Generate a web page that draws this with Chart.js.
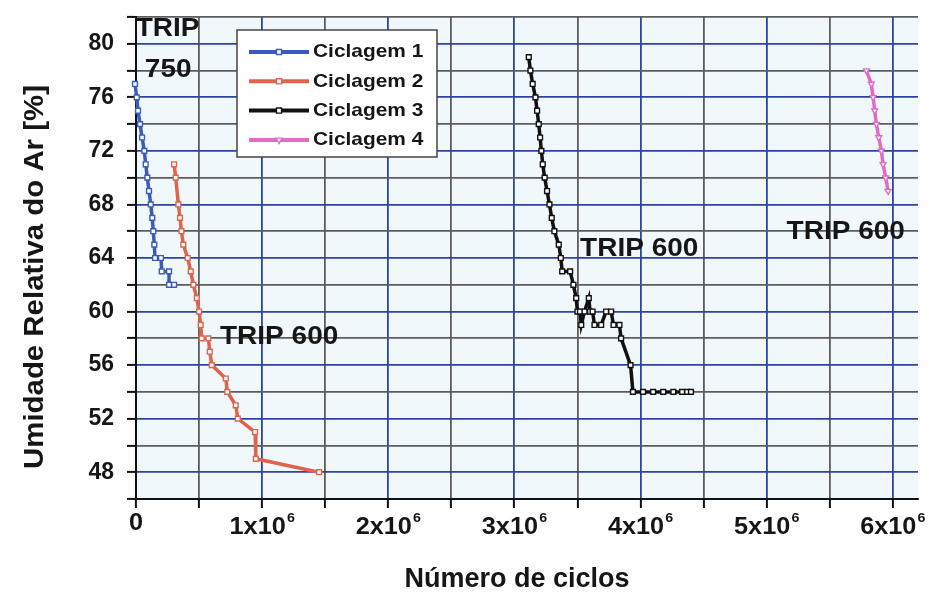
<!DOCTYPE html>
<html>
<head>
<meta charset="utf-8">
<script src="https://cdn.jsdelivr.net/npm/chart.js@4.4.1/dist/chart.umd.min.js"></script>
<style>
  html, body { margin: 0; padding: 0; background: #fff; }
  #wrap { width: 929px; height: 598px; }
</style>
</head>
<body>
<div id="wrap"><canvas id="chart" width="929" height="598"></canvas></div>
<script>
// Relative humidity of the air versus number of cycles, four cycling runs
const seriesNames = ['Ciclagem 1', 'Ciclagem 2', 'Ciclagem 3', 'Ciclagem 4'];

const cyc1X = [-24000, -8000, 6000, 16000, 32000, 48000, 66000, 77000, 90000, 103000,
               117000, 129000, 137000, 145000, 151000, 198000, 204000, 262000, 262000, 302000];
const cyc1Y = [78, 77, 76, 75, 74, 73, 72, 71, 70, 69, 68, 67, 66, 65, 64, 64, 63, 63, 62, 62];

const cyc2X = [302000, 315000, 336000, 349000, 360000, 375000, 410000, 434000, 455000, 482000,
               500000, 513000, 521000, 574000, 585000, 601000, 712000, 724000, 791000, 807000,
               944000, 950000, 1452000];
const cyc2Y = [71, 70, 68, 67, 66, 65, 64, 63, 62, 61, 60, 59, 58, 58, 57, 56, 55, 54, 53, 52, 51, 49, 48];

const cyc3X = [3114000, 3127000, 3145000, 3167000, 3180000, 3193000, 3204000, 3214000, 3225000, 3240000,
               3259000, 3278000, 3296000, 3317000, 3352000, 3368000, 3379000, 3442000, 3468000, 3490000,
               3500000, 3520000, 3530000, 3556000, 3590000, 3600000, 3620000, 3635000, 3688000, 3727000,
               3767000, 3786000, 3833000, 3846000, 3921000, 3940000, 4020000, 4100000, 4180000, 4260000,
               4330000, 4370000, 4400000];
const cyc3Y = [79, 78, 77, 76, 75, 74, 73, 72, 71, 70,
               69, 68, 67, 66, 65, 64, 63, 63, 62, 61,
               60, 60, 59, 60, 61, 60, 60, 59, 59, 60,
               60, 59, 59, 58, 56, 54, 54, 54, 54, 54,
               54, 54, 54];

const cyc4X = [5791000, 5830000, 5844000, 5857000, 5870000, 5889000, 5910000, 5923000, 5944000, 5963000];
const cyc4Y = [78, 77, 76, 75, 74, 73, 72, 71, 70, 69];

// x labels: mantissa text and power of ten shown as a superscript
const xTickLabels = ['0', '1x10', '2x10', '3x10', '4x10', '5x10', '6x10'];
const xTickPowers = ['', '6', '6', '6', '6', '6', '6'];
const yTickLabels = ['48', '52', '56', '60', '64', '68', '72', '76', '80'];

const xTitle = 'Número de ciclos';
const yTitle = 'Umidade Relativa do Ar [%]';

const steelNotes = [
  { text: 'TRIP', x: 250000, y: 81.1 },
  { text: '750', x: 255000, y: 78.0 },
  { text: 'TRIP 600', x: 1135000, y: 58.1 },
  { text: 'TRIP 600', x: 3990000, y: 64.7 },
  { text: 'TRIP 600', x: 5627000, y: 65.9 }
];

const FONT = '"Liberation Sans", Arial, Helvetica, sans-serif';
const INK = '#161616';
const GRID_BLUE = '#2c45a2';
const GRID_GRAY = '#5c5c5c';
const X_STEP = 500000;   // one grid line every half million cycles

function pairs(xs, ys) { return xs.map((x, i) => ({ x: x, y: ys[i] })); }

function series(label, xs, ys, color, style, rotation) {
  return {
    label: label,
    data: pairs(xs, ys),
    showLine: true,
    borderColor: color,
    backgroundColor: color,
    borderWidth: 3.5,
    pointStyle: style,
    rotation: rotation || 0,
    pointRadius: 3.4,
    pointHoverRadius: 3.4,
    pointBorderWidth: 1.4,
    pointBackgroundColor: '#ffffff',
    pointBorderColor: color,
    tension: 0,
    clip: false
  };
}

const plotBackground = {
  id: 'plotBackground',
  beforeDraw(chart) {
    const a = chart.chartArea, ctx = chart.ctx;
    ctx.save();
    ctx.fillStyle = '#f1f8fc';
    ctx.fillRect(a.left, a.top, a.right - a.left, a.bottom - a.top);
    ctx.restore();
  }
};

// x tick labels with a raised exponent, and the two axis titles
const axisText = {
  id: 'axisText',
  afterDraw(chart) {
    const ctx = chart.ctx, xs = chart.scales.x, a = chart.chartArea;
    ctx.save();
    ctx.fillStyle = INK;
    ctx.textBaseline = 'alphabetic';
    xTickLabels.forEach((txt, i) => {
      const px = xs.getPixelForValue(i * 1000000);
      const base = a.bottom + (i === 0 ? 31 : 35);
      ctx.font = 'bold 23px ' + FONT;
      const w = ctx.measureText(txt).width * 1.1;
      ctx.font = 'bold 13px ' + FONT;
      const ws = xTickPowers[i] ? ctx.measureText(xTickPowers[i]).width * 1.1 + 1 : 0;
      const left = px - (w + ws) / 2;
      ctx.save();
      ctx.translate(left, base);
      ctx.scale(1.1, 1);
      ctx.font = 'bold 23px ' + FONT;
      ctx.textAlign = 'left';
      ctx.fillText(txt, 0, 0);
      if (xTickPowers[i]) {
        ctx.font = 'bold 13px ' + FONT;
        ctx.fillText(xTickPowers[i], w / 1.1 + 1, -12);
      }
      ctx.restore();
    });

    ctx.font = 'bold 27px ' + FONT;
    ctx.textAlign = 'center';
    ctx.textBaseline = 'middle';
    ctx.save();
    ctx.translate((a.left + a.right) / 2 - 10, 580);
    ctx.scale(1.0, 1);
    ctx.fillText(xTitle, 0, 0);
    ctx.restore();

    ctx.save();
    ctx.translate(35, (a.top + a.bottom) / 2 + 19);
    ctx.rotate(-Math.PI / 2);
    ctx.scale(1.05, 1);
    ctx.font = 'bold 28px ' + FONT;
    ctx.fillText(yTitle, 0, 0);
    ctx.restore();
    ctx.restore();
  }
};

// Bold labels naming the steel grade next to each curve
const noteLabels = {
  id: 'noteLabels',
  afterDatasetsDraw(chart) {
    const ctx = chart.ctx, xs = chart.scales.x, ys = chart.scales.y;
    ctx.save();
    ctx.fillStyle = INK;
    ctx.font = 'bold 25px ' + FONT;
    ctx.textAlign = 'center';
    ctx.textBaseline = 'middle';
    steelNotes.forEach(n => {
      ctx.save();
      ctx.translate(xs.getPixelForValue(n.x), ys.getPixelForValue(n.y));
      ctx.scale(1.12, 1);
      ctx.fillText(n.text, 0, 0);
      ctx.restore();
    });
    ctx.restore();
  }
};

// Framed legend inside the plot, line sample with its marker
const boxLegend = {
  id: 'boxLegend',
  afterDatasetsDraw(chart) {
    const ctx = chart.ctx, a = chart.chartArea;
    const bx = a.left + 101, by = a.top + 13, bw = 200, bh = 127;
    ctx.save();
    ctx.fillStyle = '#ffffff';
    ctx.fillRect(bx, by, bw, bh);
    ctx.strokeStyle = '#444';
    ctx.lineWidth = 1.5;
    ctx.strokeRect(bx, by, bw, bh);
    chart.data.datasets.forEach((ds, i) => {
      const y = by + 22 + i * 29.3;
      ctx.strokeStyle = ds.borderColor;
      ctx.lineWidth = 4;
      ctx.beginPath();
      ctx.moveTo(bx + 12, y);
      ctx.lineTo(bx + 72, y);
      ctx.stroke();
      ctx.fillStyle = '#ffffff';
      ctx.strokeStyle = ds.borderColor;
      ctx.lineWidth = 1.4;
      Chart.helpers.drawPoint(ctx, { pointStyle: ds.pointStyle, rotation: ds.rotation, radius: 3.6, borderWidth: 1.4 }, bx + 42, y);
      ctx.save();
      ctx.fillStyle = INK;
      ctx.font = 'bold 19px ' + FONT;
      ctx.textAlign = 'left';
      ctx.textBaseline = 'middle';
      ctx.translate(bx + 76, y);
      ctx.scale(1.1, 1);
      ctx.fillText(ds.label, 0, 0);
      ctx.restore();
    });
    ctx.restore();
  }
};

new Chart(document.getElementById('chart'), {
  type: 'scatter',
  data: {
    datasets: [
      series(seriesNames[0], cyc1X, cyc1Y, '#3a5cbc', 'rect'),
      series(seriesNames[1], cyc2X, cyc2Y, '#e0644c', 'rect'),
      series(seriesNames[2], cyc3X, cyc3Y, '#111111', 'rect'),
      series(seriesNames[3], cyc4X, cyc4Y, '#e06cc6', 'triangle', 180)
    ]
  },
  options: {
    responsive: false,
    animation: false,
    devicePixelRatio: 1,
    layout: { padding: { left: 0, right: 11, top: 17, bottom: 0 } },
    plugins: {
      legend: { display: false },
      tooltip: { enabled: false }
    },
    scales: {
      x: {
        type: 'linear',
        min: 0,
        max: 6200000,
        afterBuildTicks(scale) {
          const ticks = [];
          for (let i = 0; i * X_STEP <= 6000000; i++) ticks.push({ value: i * X_STEP });
          scale.ticks = ticks;
        },
        afterFit(scale) {
          scale.height = 99;
          scale.paddingLeft = 0;
          scale.paddingRight = 0;
        },
        ticks: {
          display: false,
          autoSkip: false,
          maxRotation: 0
        },
        grid: {
          color(c) {
            const v = c.tick ? c.tick.value : 0;
            if (v === 0) return '#111';
            return (v % 1000000 === 0) ? GRID_BLUE : GRID_GRAY;
          },
          lineWidth: 1.8,
          tickColor: '#111',
          tickLength: 9,
          tickWidth: 2
        },
        border: { display: true, color: '#111', width: 2 },
        title: { display: false }
      },
      y: {
        type: 'linear',
        min: 46,
        max: 82,
        afterFit(scale) {
          scale.width = 136;
          scale.paddingTop = 0;
          scale.paddingBottom = 0;
        },
        ticks: {
          stepSize: 2,
          autoSkip: false,
          padding: 13,
          color: INK,
          font: { family: FONT, size: 23, weight: 'bold' },
          callback(v) {
            return (v % 4 === 0 && v >= 48 && v <= 80) ? yTickLabels[(v - 48) / 4] : '';
          }
        },
        grid: {
          color(c) {
            const v = c.tick ? c.tick.value : 0;
            if (v === 46) return '#111';
            return (v % 4 === 0) ? GRID_BLUE : GRID_GRAY;
          },
          lineWidth: 1.8,
          tickColor: '#111',
          tickLength: 9,
          tickWidth: 2
        },
        border: { display: true, color: '#111', width: 2 },
        title: { display: false }
      }
    }
  },
  plugins: [plotBackground, noteLabels, boxLegend, axisText]
});
</script>
</body>
</html>
